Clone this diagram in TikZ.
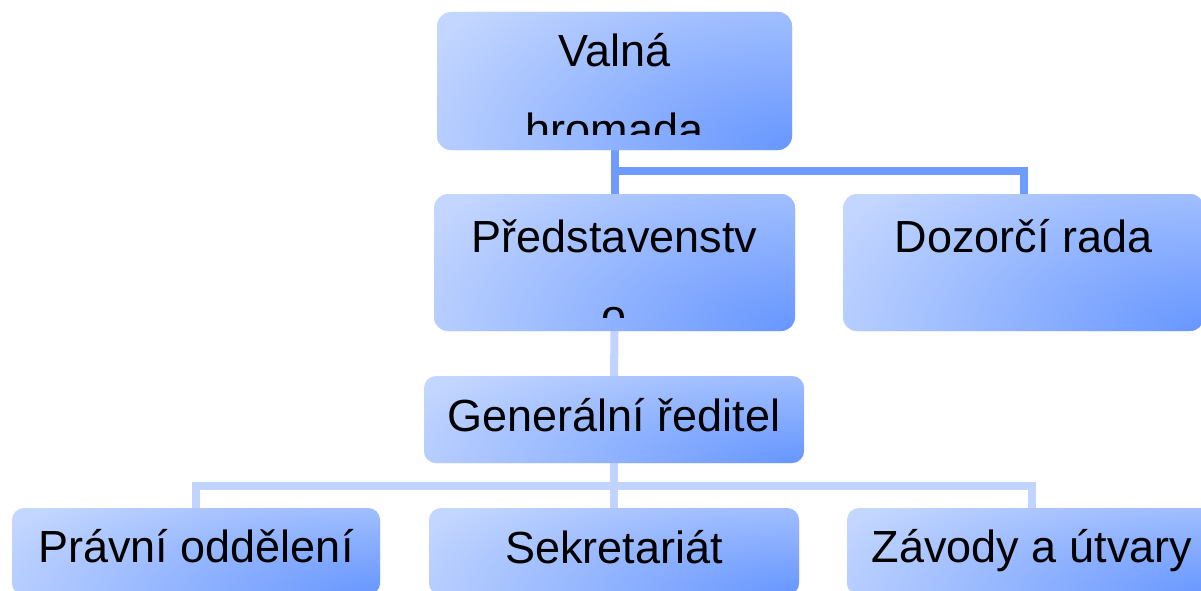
\documentclass[tikz,border=0pt]{standalone}
\usepackage{fontspec}
\setmainfont{Liberation Sans}
\usetikzlibrary{calc,backgrounds}
\definecolor{blight}{RGB}{195,214,255}
\definecolor{bmid}{RGB}{143,178,255}
\definecolor{bdark}{RGB}{102,150,255}
\definecolor{ldark}{RGB}{111,155,255}
\definecolor{llight}{RGB}{192,212,255}
\pgfdeclareradialshading{boxshade}{\pgfpoint{0bp}{0bp}}{color(0bp)=(bdark); color(11bp)=(bmid); color(25bp)=(blight); color(50bp)=(blight)}
\tikzset{
  box/.style={rounded corners=14pt, inner sep=0pt, fill=blight,
    path picture={
      \shade[shading=boxshade]
        let \p1=(path picture bounding box.north west),
            \p2=(path picture bounding box.south east) in
        (\p2) ellipse ({1.15*(\x2-\x1)} and {1.6*(\y1-\y2)});
    }},
  txt/.style={inner sep=0pt, font=\fontsize{45}{79}\selectfont, align=center, anchor=base},
  dline/.style={draw=ldark, line width=8pt},
  lline/.style={draw=llight, line width=8pt},
}
\begin{document}
\begin{tikzpicture}[x=1pt, y=-1pt]
\useasboundingbox (0,0) rectangle (1201,591);
% coordinates of junctions
\coordinate (j1) at (614.5,171);
\coordinate (j2) at (614,486);
% boxes
\node[box, minimum width=355pt, minimum height=138pt] (vh) at (614.5,81) {};
\node[box, minimum width=361pt, minimum height=137pt] (ps) at (614.5,262.5) {};
\node[box, minimum width=361pt, minimum height=137pt] (dr) at (1023.5,262.5) {};
\node[box, minimum width=380pt, minimum height=87pt, rounded corners=12pt] (gr) at (614,419.5) {};
\node[box, minimum width=368pt, minimum height=87pt, rounded corners=12pt] (po) at (196,551.5) {};
\node[box, minimum width=370pt, minimum height=87pt, rounded corners=12pt] (sk) at (614,551.5) {};
\node[box, minimum width=370pt, minimum height=87pt, rounded corners=12pt] (zu) at (1032,551.5) {};
% connectors
\begin{scope}[on background layer]
\fill[white] (0,0) rectangle (1201,591);
\draw[dline] (vh.south) -- (ps.north);
\draw[dline] (j1) -| (dr.north);
\draw[lline] (ps.south) -- (gr.north);
\draw[lline] (gr.south) -- (sk.north);
\draw[lline] (po.north) |- (j2) -| (zu.north);
\end{scope}
% texts
\begin{scope}
\clip (vh.north west) rectangle ([yshift=16pt]vh.south east);
\node[txt] (vht) at (614.5,146) {Valná\\hromada};
\end{scope}
\begin{scope}
\clip (ps.north west) rectangle ([yshift=14pt]ps.south east);
\node[txt] (pst) at (614.5,331) {Představenstv\\o};
\end{scope}
\node[txt] (drt) at (1023.5,252) {Dozorčí rada};
\node[txt] (grt) at (614,431) {Generální ředitel};
\node[txt] (pot) at (196,562) {Právní oddělení};
\node[txt] (skt) at (614,563) {Sekretariát};
\node[txt] (zut) at (1032,562) {Závody a útvary};
\end{tikzpicture}
\end{document}
